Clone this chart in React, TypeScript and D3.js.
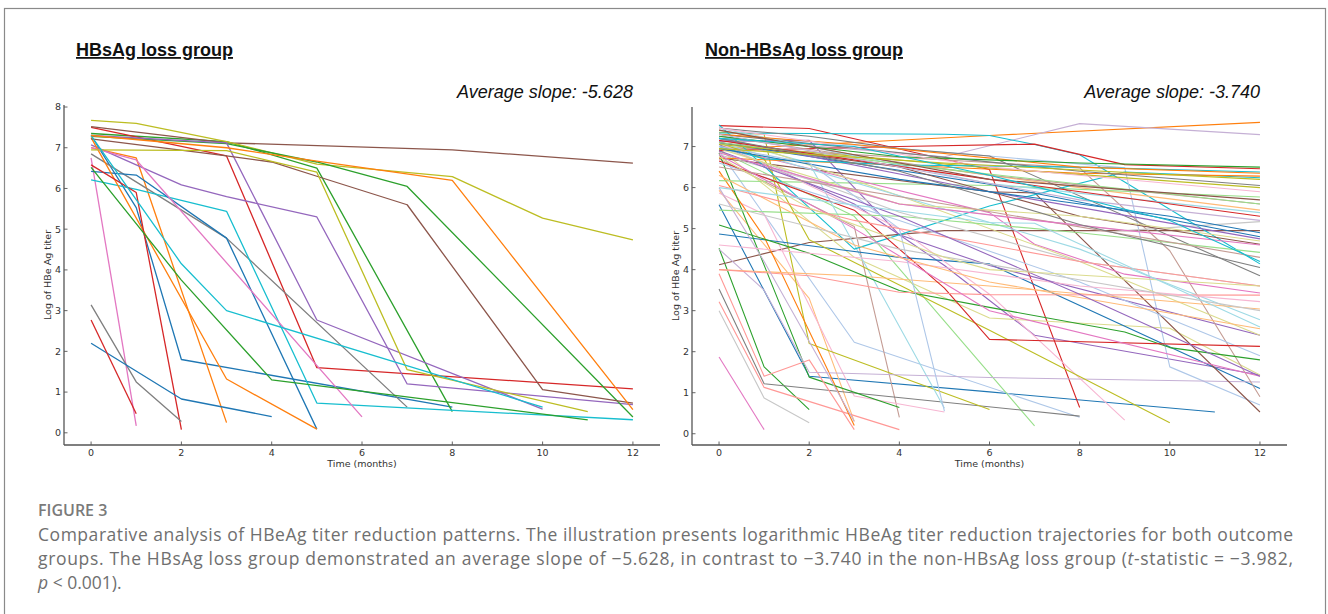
import React, { useEffect } from "react";
import * as d3 from "d3";

type Pt = [number, number];

const monthTicks = [0, 2, 4, 6, 8, 10, 12];
const lossTicksY = [0, 1, 2, 3, 4, 5, 6, 7, 8];
const nonLossTicksY = [0, 1, 2, 3, 4, 5, 6, 7];

// matplotlib colour cycles
const tab10 = d3.schemeCategory10;
const tab20 = [
  "#1f77b4", "#aec7e8", "#ff7f0e", "#ffbb78", "#2ca02c", "#98df8a", "#d62728", "#ff9896",
  "#9467bd", "#c5b0d5", "#8c564b", "#c49c94", "#e377c2", "#f7b6d2", "#7f7f7f", "#c7c7c7",
  "#bcbd22", "#dbdb8d", "#17becf", "#9edae5",
];

// HBsAg loss group: patients listed per slot of the colour cycle
const lossByColour: Pt[][][] = [
  [ // blue
    [[0, 7.3], [1, 5.53], [2, 1.8], [8, 0.63]],
    [[0, 6.42], [1, 6.33], [3, 4.78], [5, 0.09]],
    [[0, 2.2], [2, 0.83], [4, 0.4]],
  ],
  [ // orange
    [[0, 7.0], [1, 6.75], [3, 0.25]],
    [[0, 7.25], [3, 1.32], [5, 0.09]],
    [[0, 7.3], [3, 7.0], [5, 6.67], [8, 6.2], [12, 0.57]],
  ],
  [ // green
    [[0, 7.35], [3, 7.15], [5, 6.5], [8, 0.52]],
    [[0, 7.28], [3, 7.1], [5, 6.65], [7, 6.05], [12, 0.39]],
    [[0, 6.52], [2, 3.75], [4, 1.3], [11, 0.32]],
  ],
  [ // red
    [[0, 7.5], [3, 6.8], [5, 1.6], [12, 1.08]],
    [[0, 6.58], [1, 5.9], [2, 0.08]],
    [[0, 2.77], [1, 0.47]],
  ],
  [ // purple
    [[0, 7.07], [1, 6.58], [2, 6.09], [3, 5.8], [5, 5.3], [7, 1.2], [12, 0.69]],
    [[0, 7.3], [3, 7.12], [5, 2.77], [10, 0.58]],
  ],
  [ // brown
    [[0, 7.52], [3, 7.12], [8, 6.95], [12, 6.62]],
    [[0, 7.22], [3, 6.8], [4, 6.65], [5, 6.3], [7, 5.6], [10, 1.06], [12, 0.73]],
  ],
  [ // pink
    [[0, 6.75], [1, 0.17]],
    [[0, 7.0], [1, 6.7], [6, 0.39]],
  ],
  [ // gray
    [[0, 6.85], [3, 4.78], [7, 0.63]],
    [[0, 3.14], [1, 1.25], [2, 0.28]],
  ],
  [ // olive
    [[0, 7.67], [1, 7.6], [3, 7.15], [5, 6.6], [8, 6.29], [10, 5.27], [12, 4.74]],
    [[0, 6.95], [3, 6.93], [5, 6.4], [7, 1.55], [11, 0.52]],
  ],
  [ // cyan
    [[0, 6.21], [1, 5.98], [3, 5.44], [5, 0.73], [12, 0.32]],
    [[0, 7.3], [2, 4.15], [3, 3.0], [10, 0.63]],
  ],
];

// Non-HBsAg loss group, same idea with the 20-colour cycle
const nonLossByColour: Pt[][][] = [
  [ // blue
    [[0, 5.58], [2, 1.4], [6, 1.02], [11, 0.53]],
    [[0, 4.87], [4, 4.3], [6, 4.14], [12, 1.1]],
    [[0, 7.1], [6, 6.08], [9, 5.43], [12, 4.8]],
    [[0, 6.95], [4, 6.2], [10, 5.3], [12, 4.9]],
  ],
  [ // light blue
    [[0, 6.9], [3, 2.23], [8, 0.4]],
    [[0, 7.3], [6, 6.77], [9, 6.48], [10, 1.63], [12, 0.7]],
    [[0, 6.6], [4, 5.2], [8, 3.7], [12, 1.9]],
    [[0, 7.0], [2, 6.6], [4, 5.0], [5, 0.55]],
  ],
  [ // orange
    [[0, 6.93], [6, 7.27], [12, 7.59]],
    [[0, 6.4], [1, 4.8], [3, 0.2]],
    [[0, 6.72], [4, 6.55], [8, 6.35], [12, 6.28]],
    [[0, 7.3], [3, 7.05], [8, 6.5], [12, 6.35]],
  ],
  [ // light orange
    [[0, 5.93], [2, 3.3], [3, 0.3]],
    [[0, 7.4], [4, 6.6], [8, 6.0], [12, 5.45]],
    [[0, 4.0], [3, 3.85], [6, 3.6], [12, 3.04]],
    [[0, 6.3], [3, 4.6], [6, 3.7], [12, 2.56]],
  ],
  [ // green
    [[0, 4.52], [1, 1.63], [2, 0.59]],
    [[0, 6.84], [2, 1.38], [4, 0.64]],
    [[0, 5.09], [2, 4.4], [4, 3.49], [6, 3.08], [9, 2.48], [10, 2.1], [12, 1.8]],
    [[0, 7.25], [4, 6.75], [8, 6.6], [12, 6.5]],
  ],
  [ // light green
    [[0, 6.9], [3, 5.3], [7, 0.19]],
    [[0, 6.17], [6, 6.05], [12, 5.77]],
    [[0, 5.45], [4, 5.3], [8, 4.9], [12, 4.42]],
    [[0, 7.1], [5, 6.45], [12, 5.6]],
  ],
  [ // red
    [[0, 7.51], [2, 7.44], [6, 6.44], [8, 0.64]],
    [[0, 6.9], [4, 7.0], [7, 7.06], [9, 6.56], [12, 6.46]],
    [[0, 6.65], [3, 5.45], [5, 3.55], [6, 2.3], [12, 2.13]],
    [[0, 7.15], [6, 6.2], [12, 5.3]],
  ],
  [ // light red
    [[0, 3.22], [1, 1.13], [4, 0.1]],
    [[0, 3.9], [1, 1.4], [2, 1.8], [3, 0.1]],
    [[0, 4.0], [2, 3.85], [4, 3.45], [6, 3.39], [12, 3.38]],
    [[0, 6.05], [3, 5.2], [8, 4.2], [12, 3.6]],
  ],
  [ // purple
    [[0, 7.05], [3, 5.6], [5, 4.1], [7, 2.4], [12, 1.43]],
    [[0, 7.13], [2, 7.15], [4, 4.85], [6, 4.1], [12, 2.4]],
    [[0, 7.2], [6, 5.9], [12, 4.75]],
    [[0, 6.9], [4, 5.3], [8, 3.4], [12, 1.4]],
  ],
  [ // lavender
    [[0, 7.2], [5, 6.75], [8, 7.56], [12, 7.29]],
    [[0, 4.5], [1, 3.5], [2, 1.5], [6, 1.37], [12, 1.26]],
    [[0, 6.0], [1, 4.2], [3, 0.3]],
    [[0, 7.3], [4, 6.5], [8, 5.7], [12, 5.2]],
  ],
  [ // brown
    [[0, 4.12], [2, 4.66], [4, 4.86], [5, 4.95], [12, 4.95]],
    [[0, 6.72], [6, 5.9], [7, 5.87], [12, 0.53]],
    [[0, 7.1], [4, 6.5], [8, 5.3], [12, 4.62]],
    [[0, 7.4], [3, 6.8], [6, 6.2], [12, 5.7]],
  ],
  [ // light brown
    [[0, 6.7], [3, 5.05], [4, 0.4]],
    [[0, 7.0], [8, 6.48], [10, 4.46], [12, 0.9]],
    [[0, 7.25], [6, 6.3], [12, 5.6]],
    [[0, 6.5], [5, 5.6], [12, 4.3]],
  ],
  [ // pink
    [[0, 1.87], [1, 0.1]],
    [[0, 7.0], [6, 5.39], [7, 4.62], [9, 3.89], [12, 3.43]],
    [[0, 6.8], [3, 5.0], [6, 3.0], [12, 1.4]],
    [[0, 6.85], [4, 5.6], [7, 5.2], [12, 4.6]],
  ],
  [ // light pink
    [[0, 5.87], [1, 5.35], [3, 0.92], [5, 0.53]],
    [[0, 7.1], [4, 5.0], [6, 3.4], [9, 0.33]],
    [[0, 4.6], [4, 4.2], [8, 3.6], [12, 3.22]],
    [[0, 7.45], [6, 6.5], [12, 5.9]],
  ],
  [ // gray
    [[0, 3.53], [1, 1.22], [8, 0.43]],
    [[0, 7.45], [2, 7.25], [4, 6.95], [6, 6.77], [12, 3.85]],
    [[0, 7.3], [8, 6.4], [12, 6.05]],
    [[0, 7.2], [4, 6.4], [8, 5.1], [12, 4.05]],
  ],
  [ // light gray
    [[0, 3.0], [1, 0.87], [2, 0.27]],
    [[0, 6.8], [4, 5.6], [9, 4.95], [12, 5.17]],
    [[0, 7.0], [4, 5.4], [8, 4.2], [12, 3.6]],
    [[0, 5.6], [4, 4.5], [12, 3.0]],
  ],
  [ // olive
    [[0, 7.35], [1, 7.3], [2, 2.2], [6, 0.59]],
    [[0, 7.1], [1, 6.7], [2, 4.73], [6, 2.52], [10, 0.27]],
    [[0, 7.05], [6, 6.48], [12, 6.0]],
    [[0, 6.95], [5, 6.6], [12, 6.2]],
  ],
  [ // light olive
    [[0, 6.95], [3, 4.3], [6, 2.82], [10, 2.57], [12, 1.43]],
    [[0, 7.3], [4, 5.8], [8, 4.2], [12, 2.4]],
    [[0, 6.95], [4, 5.6], [8, 5.3], [12, 4.7]],
    [[0, 6.75], [2, 5.5], [5, 4.3], [6, 4.0], [12, 3.6]],
  ],
  [ // cyan
    [[0, 7.33], [5, 7.3], [6, 7.27], [7, 7.05], [8, 6.8], [12, 4.14]],
    [[0, 7.53], [3, 4.5], [6, 5.55], [9, 6.38], [12, 6.24]],
    [[0, 7.0], [1, 6.7], [4, 6.55], [8, 6.5], [12, 6.38]],
    [[0, 7.2], [3, 7.0], [6, 6.3], [10, 5.2], [12, 4.2]],
  ],
  [ // light cyan
    [[0, 7.2], [2, 6.6], [5, 0.62]],
    [[0, 7.1], [4, 5.8], [8, 4.5], [12, 2.78]],
    [[0, 7.45], [6, 6.1], [12, 5.39]],
    [[0, 6.0], [6, 5.15], [7, 5.13], [12, 2.6]],
  ],
];

// put the patients back in plotting order (colour cycles with the index)
function inCycleOrder(byColour: Pt[][][]) {
  const out: { pts: Pt[]; slot: number }[] = [];
  const rounds = d3.max(byColour, (g) => g.length) || 0;
  for (let r = 0; r < rounds; r++) {
    byColour.forEach((g, slot) => {
      if (g[r]) out.push({ pts: g[r], slot });
    });
  }
  return out;
}

const tickFont = "'DejaVu Sans', sans-serif";

function Panel({ left, right, top, bottom, byColour, palette, yTicks, title, titleX, slope, lw }: any) {
  const lines = inCycleOrder(byColour);
  const all = lines.flatMap((l) => l.pts);
  const [tMin, tMax] = d3.extent(all, (d) => d[0]) as [number, number];
  const [vMin, vMax] = d3.extent(all, (d) => d[1]) as [number, number];
  const tPad = (tMax - tMin) * 0.05;
  const vPad = (vMax - vMin) * 0.05;
  const x = d3.scaleLinear().domain([tMin - tPad, tMax + tPad]).range([left, right]);
  const y = d3.scaleLinear().domain([vMin - vPad, vMax + vPad]).range([bottom, top]);
  const line = d3.line<Pt>().x((d) => x(d[0])).y((d) => y(d[1]));
  const axisCol = "#555";

  return (
    <g>
      <text x={titleX} y={56} fontFamily="'Liberation Sans', Arial, sans-serif" fontWeight="bold"
        fontSize={18} fill="#111" textDecoration="underline">{title}</text>
      <text x={x(12)} y={98} textAnchor="end" fontFamily="'Liberation Sans', Arial, sans-serif"
        fontStyle="italic" fontSize={18} fill="#111">{`Average slope: ${slope}`}</text>
      <g fill="none" strokeWidth={lw} strokeLinejoin="round">
        {lines.map((l, i) => (
          <path key={i} d={line(l.pts) || ""} stroke={palette[l.slot % palette.length]} />
        ))}
      </g>
      <line x1={left} x2={left} y1={top} y2={bottom} stroke={axisCol} strokeWidth={1.3} />
      <line x1={left} x2={right} y1={bottom} y2={bottom} stroke={axisCol} strokeWidth={1.3} />
      {yTicks.map((t: number) => (
        <g key={"y" + t}>
          <line x1={left} x2={left + 3.5} y1={y(t)} y2={y(t)} stroke={axisCol} strokeWidth={0.9} />
          <text x={left - 3} y={y(t)} dy="0.35em" textAnchor="end" fontFamily={tickFont}
            fontSize={9.5} fill="#333">{t}</text>
        </g>
      ))}
      {monthTicks.map((t) => (
        <g key={"x" + t}>
          <line x1={x(t)} x2={x(t)} y1={bottom} y2={bottom - 3.5} stroke={axisCol} strokeWidth={0.9} />
          <text x={x(t)} y={bottom + 11} textAnchor="middle" fontFamily={tickFont}
            fontSize={9.5} fill="#333">{t}</text>
        </g>
      ))}
      <text x={(left + right) / 2} y={bottom + 22} textAnchor="middle" fontFamily={tickFont}
        fontSize={9.5} fill="#333">Time (months)</text>
      <text transform={`translate(${left - 13},${(top + bottom) / 2}) rotate(-90)`} textAnchor="middle"
        fontFamily={tickFont} fontSize={9.5} fill="#333">Log of HBe Ag titer</text>
    </g>
  );
}

export default function App() {
  useEffect(() => {
    document.body.style.margin = "0";
  }, []);

  const capFont = "'Open Sans', 'Noto Sans', sans-serif";
  const capCol = "#6f6f6f";

  return (
    <svg width={1328} height={614} style={{ display: "block", background: "#fff" }}>
      <rect x={4.5} y={8.5} width={1321} height={640} fill="none" stroke="#8a8a8a" strokeWidth={1.2} />
      <Panel left={64} right={660} top={105} bottom={445} byColour={lossByColour} palette={tab10}
        yTicks={lossTicksY} title="HBsAg loss group" titleX={76} slope="-5.628" lw={1.3} />
      <Panel left={692} right={1287} top={107} bottom={445} byColour={nonLossByColour} palette={tab20}
        yTicks={nonLossTicksY} title="Non-HBsAg loss group" titleX={705} slope="-3.740" lw={1.1} />
      <text x={38} y={516} fontFamily={capFont} fontWeight={600} fontSize={16} fill="#7a7a7a">FIGURE 3</text>
      <text x={38} y={541} fontFamily={capFont} fontSize={17.5} fill={capCol} textLength={1255}
        lengthAdjust="spacing">
        Comparative analysis of HBeAg titer reduction patterns. The illustration presents logarithmic HBeAg titer reduction trajectories for both outcome
      </text>
      <text x={38} y={565} fontFamily={capFont} fontSize={17.5} fill={capCol} textLength={1255}
        lengthAdjust="spacing">
        groups. The HBsAg loss group demonstrated an average slope of −5.628, in contrast to −3.740 in the non-HBsAg loss group (<tspan fontStyle="italic">t</tspan>-statistic = −3.982,
      </text>
      <text x={38} y={589} fontFamily={capFont} fontSize={17.5} fill={capCol}>
        <tspan fontStyle="italic">p</tspan> &lt; 0.001).
      </text>
    </svg>
  );
}
